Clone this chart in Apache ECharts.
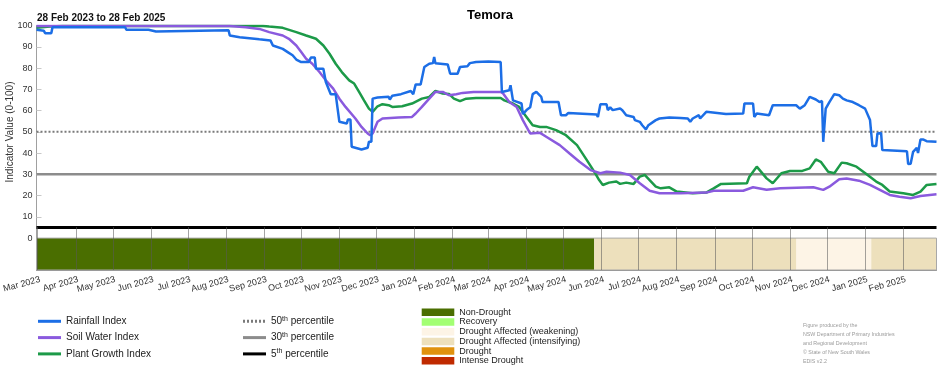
<!DOCTYPE html>
<html><head><meta charset="utf-8">
<script src="https://cdn.jsdelivr.net/npm/echarts@6/dist/echarts.min.js"></script>
<style>html,body{margin:0;padding:0;background:#fff}#c{width:952px;height:370px}</style>
</head><body><div id="c"></div>
<script>
const xStart = '2023-02-28';
const xEnd = '2025-02-28';
const monthTicks = ['2023-03-01','2023-04-01','2023-05-01','2023-06-01','2023-07-01','2023-08-01','2023-09-01','2023-10-01','2023-11-01','2023-12-01','2024-01-01','2024-02-01','2024-03-01','2024-04-01','2024-05-01','2024-06-01','2024-07-01','2024-08-01','2024-09-01','2024-10-01','2024-11-01','2024-12-01','2025-01-01','2025-02-01'];
const monthNames = ['Jan','Feb','Mar','Apr','May','Jun','Jul','Aug','Sep','Oct','Nov','Dec'];
const yTicks = [0,10,20,30,40,50,60,70,80,90,100];
const yMin = -15, yMax = 100;

const rainfall = [['2023-02-28',98],['2023-03-06',97.5],['2023-03-07',96.4],['2023-03-12',96.4],['2023-03-13',99.2],['2023-05-11',99.2],['2023-05-12',98],['2023-05-30',98],['2023-05-31',97.2],['2023-06-05',97.2],['2023-06-06',97.8],['2023-08-03',97.8],['2023-08-04',95.3],['2023-08-12',94.5],['2023-08-28',93.5],['2023-09-06',93],['2023-09-08',90.6],['2023-09-16',89],['2023-09-20',87.5],['2023-09-24',86],['2023-09-27',84],['2023-10-01',82.8],['2023-10-07',82.8],['2023-10-09',85],['2023-10-12',85],['2023-10-13',79.7],['2023-10-19',79.7],['2023-10-21',73.4],['2023-10-25',67.7],['2023-10-29',67.7],['2023-11-01',54.7],['2023-11-07',53.9],['2023-11-08',55.8],['2023-11-10',55.8],['2023-11-11',43],['2023-11-19',41.7],['2023-11-24',42.5],['2023-11-25',45.3],['2023-11-27',45.3],['2023-11-28',65.6],['2023-12-02',66.1],['2023-12-11',66.5],['2023-12-12',65.2],['2023-12-14',67],['2023-12-21',67.7],['2023-12-29',69.2],['2023-12-31',67.7],['2024-01-02',72.3],['2024-01-06',72.3],['2024-01-09',80.5],['2024-01-13',82],['2024-01-16',82.3],['2024-01-17',85.2],['2024-01-18',82.3],['2024-01-28',81.7],['2024-01-30',77.3],['2024-02-05',77.3],['2024-02-07',80.5],['2024-02-13',80.8],['2024-02-15',82.3],['2024-02-20',82.8],['2024-03-01',83.1],['2024-03-11',82.8],['2024-03-12',68.75],['2024-03-18',69.5],['2024-03-19',71.9],['2024-03-21',64.8],['2024-03-28',63.3],['2024-03-29',58.3],['2024-04-01',60.2],['2024-04-04',61.5],['2024-04-06',67.7],['2024-04-09',68.75],['2024-04-13',66.4],['2024-04-14',64],['2024-04-27',64],['2024-04-29',57.8],['2024-05-03',57.8],['2024-05-05',58.9],['2024-05-28',58.1],['2024-05-29',57],['2024-05-31',63],['2024-06-05',63],['2024-06-06',60.2],['2024-06-08',61.5],['2024-06-10',60.2],['2024-06-16',61],['2024-06-18',60],['2024-06-21',57.8],['2024-06-27',57],['2024-06-28',55.5],['2024-07-02',54.7],['2024-07-04',53.1],['2024-07-07',51.1],['2024-07-09',53.1],['2024-07-15',55.5],['2024-07-18',56.25],['2024-07-26',56.7],['2024-08-04',56.5],['2024-08-10',56.25],['2024-08-12',54.7],['2024-08-14',56.25],['2024-08-19',57.8],['2024-08-20',56.25],['2024-08-25',59.4],['2024-09-10',58.4],['2024-09-24',58.6],['2024-09-25',63.3],['2024-10-02',63.3],['2024-10-03',57],['2024-10-05',58.6],['2024-10-15',57.8],['2024-10-18',62.5],['2024-11-06',62.5],['2024-11-09',60.9],['2024-11-13',62.5],['2024-11-17',66.4],['2024-11-22',65.2],['2024-11-25',64],['2024-11-27',64.5],['2024-11-28',45.3],['2024-11-30',60.9],['2024-12-03',64],['2024-12-07',67.7],['2024-12-11',67.2],['2024-12-14',65.6],['2024-12-17',64.8],['2024-12-22',64],['2024-12-27',62.5],['2025-01-01',60.9],['2025-01-05',55.5],['2025-01-07',43.3],['2025-01-10',43.3],['2025-01-11',49.2],['2025-01-14',49.5],['2025-01-15',41.4],['2025-02-04',40.8],['2025-02-05',34.8],['2025-02-07',35],['2025-02-09',40.6],['2025-02-12',42.5],['2025-02-13',40],['2025-02-15',46.4],['2025-02-17',46.4],['2025-02-20',45.6],['2025-02-28',45.3]];

const soilWater = [['2023-02-28',99.8],['2023-08-04',99.8],['2023-08-17',99.2],['2023-08-28',98.4],['2023-09-05',96.9],['2023-09-16',95.3],['2023-09-21',93.75],['2023-09-27',90.6],['2023-10-01',87.5],['2023-10-05',84.4],['2023-10-10',82],['2023-10-16',78],['2023-10-21',74.2],['2023-10-27',70.3],['2023-11-01',65.6],['2023-11-06',61.7],['2023-11-14',56.25],['2023-11-19',52.3],['2023-11-24',49.2],['2023-11-26',48.4],['2023-11-28',49.2],['2023-12-02',54.7],['2023-12-06',56.25],['2023-12-19',56.7],['2023-12-30',57],['2024-01-02',58.6],['2024-01-07',61.7],['2024-01-13',65.6],['2024-01-18',68.75],['2024-01-24',68.75],['2024-01-29',67.2],['2024-02-04',67.7],['2024-02-09',68.3],['2024-02-18',68.75],['2024-03-11',68.75],['2024-03-13',68],['2024-03-18',64],['2024-03-24',61.7],['2024-03-29',55.5],['2024-04-04',49.2],['2024-04-12',49.5],['2024-04-17',47.7],['2024-04-28',43.75],['2024-05-06',39.8],['2024-05-14',35.9],['2024-05-23',32],['2024-05-31',30.5],['2024-06-05',31.25],['2024-06-16',30.8],['2024-06-24',29.7],['2024-07-02',25.8],['2024-07-10',22.3],['2024-07-18',21.1],['2024-08-04',21.1],['2024-08-25',21.4],['2024-08-31',22.3],['2024-09-24',22.3],['2024-10-02',23.9],['2024-10-13',22.7],['2024-10-24',23.4],['2024-11-20',23.9],['2024-11-28',22.7],['2024-12-03',24.2],['2024-12-11',27.7],['2024-12-17',28],['2024-12-27',27],['2025-01-05',25],['2025-01-13',22.7],['2025-01-21',20.3],['2025-01-29',19.5],['2025-02-07',18.75],['2025-02-15',19.8],['2025-02-28',20.6]];

const plantGrowth = [['2023-02-28',98.9],['2023-03-11',99.5],['2023-03-21',99.8],['2023-08-31',99.8],['2023-09-05',99.5],['2023-09-16',98.9],['2023-09-27',96.9],['2023-10-05',95.3],['2023-10-13',93.75],['2023-10-19',90.6],['2023-10-24',86.7],['2023-10-29',82],['2023-11-03',78.1],['2023-11-09',74.2],['2023-11-13',72.7],['2023-11-17',68.75],['2023-11-21',64.8],['2023-11-25',60.9],['2023-11-28',59.4],['2023-12-02',62],['2023-12-06',63],['2023-12-11',62.5],['2023-12-14',61.7],['2023-12-22',62],['2023-12-30',63.3],['2024-01-07',65.6],['2024-01-13',66.4],['2024-01-18',69.2],['2024-01-24',68],['2024-01-29',67.8],['2024-02-02',65.6],['2024-02-07',64.4],['2024-02-12',65.6],['2024-02-20',65.9],['2024-03-11',65.9],['2024-03-14',64.8],['2024-03-21',63.3],['2024-03-26',61.7],['2024-04-01',57],['2024-04-06',53.1],['2024-04-12',52.3],['2024-04-17',52.3],['2024-04-25',50.8],['2024-05-03',48.4],['2024-05-12',43.75],['2024-05-20',36.7],['2024-05-26',31.25],['2024-05-30',27.3],['2024-06-02',25],['2024-06-07',26.1],['2024-06-13',26.6],['2024-06-16',25.5],['2024-06-21',26.1],['2024-06-27',25.5],['2024-07-02',28.9],['2024-07-06',29.7],['2024-07-10',27.3],['2024-07-15',24.2],['2024-07-19',23.4],['2024-07-26',23.9],['2024-08-01',21.9],['2024-08-14',21.1],['2024-08-25',21.4],['2024-08-31',23.4],['2024-09-06',25.5],['2024-09-27',25.8],['2024-09-29',28.9],['2024-10-05',33.6],['2024-10-13',28.1],['2024-10-18',25.8],['2024-10-25',30.5],['2024-11-01',31.6],['2024-11-11',31.6],['2024-11-17',32.8],['2024-11-22',37],['2024-11-26',35.9],['2024-12-02',31.25],['2024-12-07',30.5],['2024-12-13',35.5],['2024-12-17',35.2],['2024-12-25',33.6],['2025-01-02',30.2],['2025-01-10',26.6],['2025-01-15',25],['2025-01-21',21.9],['2025-02-01',21.1],['2025-02-09',20.3],['2025-02-15',21.9],['2025-02-20',25],['2025-02-28',25.5]];

const indexNames = ['Rainfall Index','Soil Water Index','Plant Growth Index'];
const percentileNames = ['50th percentile','30th percentile','5th percentile'];
const percentileValues = [50, 30, 5];
const statusNames = ['Non-Drought','Recovery','Drought Affected (weakening)','Drought Affected (intensifying)','Drought','Intense Drought'];
const statusStart = ['2023-02-28','2024-05-26','2024-11-06','2025-01-06'];
const statusEnd   = ['2024-05-26','2024-11-06','2025-01-06','2025-02-28'];
const statusIndex = [0, 3, 2, 3];
const creditLines = ['Figure produced by the','NSW Department of Primary Industries','and Regional Development','\u00A9 State of New South Wales','EDIS v2.2'];

// styles
const indexColors = ['#1c6ee6','#8a5ade','#1c9a48'];
const pctStyles = [
  {color:'#7a7a7a', width:2, type:[2,2]},
  {color:'#8c8c8c', width:2.5, type:'solid'},
  {color:'#000000', width:3, type:'solid'}
];
const statusColors = ['#4a6e00','#a3ff73','#fdf4e6','#ede0bc','#e0920e','#c02a00'];

function ts(s){ const p = s.split('-').map(Number); return new Date(p[0], p[1]-1, p[2]).getTime(); }

const chart = echarts.init(document.getElementById('c'), null, {renderer:'canvas'});
const FONT = 'Liberation Sans, Arial, sans-serif';

const series = [];
percentileNames.forEach((n,i)=>{
  series.push({name:n, type:'line', symbol:'none', silent:true, z:1,
    data:[[ts(xStart), percentileValues[i]],[ts(xEnd), percentileValues[i]]],
    itemStyle:{color:pctStyles[i].color},
    lineStyle:pctStyles[i]});
});
statusNames.forEach((n,i)=>{
  const areas = [];
  statusIndex.forEach((si,k)=>{ if(si===i) areas.push([{xAxis:ts(statusStart[k]), yAxis:0},{xAxis:ts(statusEnd[k]), yAxis:yMin}]); });
  series.push({name:n, type:'bar', data:[], itemStyle:{color:statusColors[i]},
    markArea:{silent:true, itemStyle:{color:statusColors[i], opacity:1, borderWidth:0}, data:areas}});
});
// thin frame around the drought-status band
series.push({name:'statusFrame', type:'line', data:[], silent:true,
  markArea:{silent:true, itemStyle:{color:'rgba(0,0,0,0)', borderColor:'#a8a8a8', borderWidth:1},
    data:[[{xAxis:ts(xStart), yAxis:0},{xAxis:ts(xEnd), yAxis:yMin}]]}});
const idxData = [rainfall, soilWater, plantGrowth];
indexNames.forEach((n,i)=>{
  series.push({name:n, type:'line', symbol:'none', z:5-i+2,
    data: idxData[i].map(d=>[ts(d[0]), d[1]]),
    itemStyle:{color:indexColors[i]},
    lineStyle:{color:indexColors[i], width:2.5}});
});

const lineLegendBase = {orient:'vertical', top:315.3, padding:0, itemWidth:23, itemHeight:10, itemGap:4.3,
  itemStyle:{opacity:0, borderWidth:0}, lineStyle:{width:3}};

chart.setOption({
  animation:false,
  textStyle:{fontFamily:FONT},
  grid:{left:36.5, right:15.5, top:25.5, bottom:100, outerBoundsMode:'none', containLabel:false},
  xAxis:{type:'value', min:ts(xStart), max:ts(xEnd), z:10, scale:true,
    axisLine:{show:true, onZero:false, lineStyle:{color:'#9a9a9a', width:1}},
    axisTick:{show:true, inside:true, length:43, customValues:monthTicks.map(ts), lineStyle:{color:'rgba(90,90,90,0.55)', width:1}},
    axisLabel:{customValues:monthTicks.map(ts), rotate:15, margin:10, fontSize:9, color:'#333', fontFamily:FONT, padding:[0,-2.5,0,0],
      formatter:(v)=>{ const d=new Date(v); return monthNames[d.getMonth()]+' '+d.getFullYear(); }},
    splitLine:{show:false}},
  yAxis:{type:'value', min:yMin, max:yMax,
    axisLine:{show:true, lineStyle:{color:'#a0a0a0'}},
    axisTick:{show:true, inside:true, length:5, customValues:yTicks.slice(1,-1), lineStyle:{color:'#c8c8c8'}},
    axisLabel:{customValues:yTicks, fontSize:9, color:'#333', margin:4, fontFamily:FONT},
    splitLine:{show:false}},
  legend:[
    Object.assign({}, lineLegendBase, {data:indexNames, left:36.5,
      textStyle:{fontSize:10, color:'#222', lineHeight:12, fontFamily:FONT}}),
    Object.assign({}, lineLegendBase, {data:percentileNames, left:241.5,
      textStyle:{fontSize:10, color:'#222', lineHeight:12, fontFamily:FONT,
        rich:{n:{fontSize:10, color:'#222', lineHeight:12, fontFamily:FONT}, s:{fontSize:7, color:'#222', lineHeight:12, verticalAlign:'top', padding:[0,0,4,0], fontFamily:FONT}}},
      formatter:(name)=>name.replace(/^(\d+)th (.*)$/, '{n|$1}{s|th}{n| $2}')}),
    {data:statusNames, orient:'vertical', left:421.7, top:307.5, height:90, padding:0, icon:'rect', itemWidth:32.6, itemHeight:7.5, itemGap:0.1,
      textStyle:{fontSize:9, color:'#222', lineHeight:9.6, fontFamily:FONT}}
  ],
  graphic:[
    {type:'text', x:490, y:15, style:{text:'Temora', fontSize:13, fontWeight:'bold', fill:'#000', textAlign:'center', textVerticalAlign:'middle', fontFamily:FONT}},
    {type:'text', x:37, y:18.3, style:{text:'28 Feb 2023 to 28 Feb 2025', fontSize:10, fontWeight:'bold', fill:'#111', textAlign:'left', textVerticalAlign:'middle', fontFamily:FONT}},
    {type:'text', x:10.5, y:132, rotation:Math.PI/2, style:{text:'Indicator Value (0-100)', fontSize:10, fill:'#333', textAlign:'center', textVerticalAlign:'middle', fontFamily:FONT}},
    {type:'text', x:803, y:321, style:{text:creditLines.join('\n'), fontSize:5.3, lineHeight:9, fill:'#9a9a9a', textAlign:'left', textVerticalAlign:'top', fontFamily:FONT}}
  ],
  series:series
});
</script></body></html>
